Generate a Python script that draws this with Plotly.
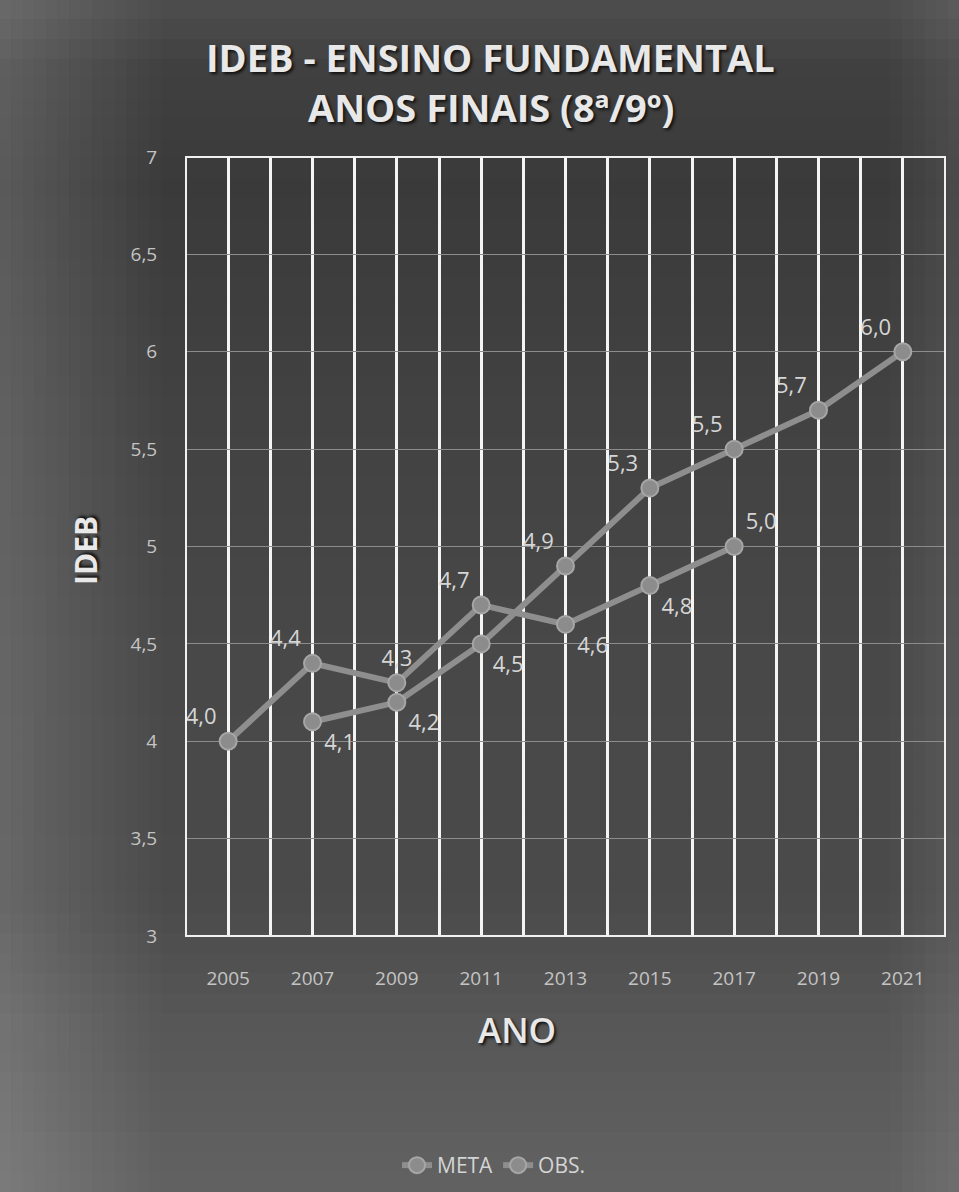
import plotly.graph_objects as go

# Data
anos_obs = [2005, 2007, 2009, 2011, 2013, 2015, 2017]
obs = [4.0, 4.4, 4.3, 4.7, 4.6, 4.8, 5.0]
obs_pos = ["top left", "top left", "top center", "top left",
           "bottom right", "bottom right", "top right"]

anos_meta = [2007, 2009, 2011, 2013, 2015, 2017, 2019, 2021]
meta = [4.1, 4.2, 4.5, 4.9, 5.3, 5.5, 5.7, 6.0]
meta_pos = ["bottom right", "bottom right", "bottom right", "top left",
            "top left", "top left", "top left", "top left"]

x_ticks = [2005, 2007, 2009, 2011, 2013, 2015, 2017, 2019, 2021]
y_ticks = [3, 3.5, 4, 4.5, 5, 5.5, 6, 6.5, 7]
y_tick_text = [str(v).replace(".", ",") for v in y_ticks]

FONT = "Open Sans"
LINE_C = "#8e8e8e"
MARK_C = "#8c8c8c"
MARK_EDGE = "#a6a6a6"
TXT_C = "#d6d6d6"
SHADOW = "2px 2px 3px #111111"


def fmt(v):
    return f"{v:.1f}".replace(".", ",")


def lerp_gray(stops, t):
    for (t0, g0), (t1, g1) in zip(stops, stops[1:]):
        if t0 <= t <= t1:
            g = g0 + (g1 - g0) * (t - t0) / (t1 - t0)
            g = int(round(g))
            return f"rgb({g},{g},{g})"
    g = stops[-1][1]
    return f"rgb({g},{g},{g})"


fig = go.Figure()

for xs, ys, name, pos in [(anos_meta, meta, "META", meta_pos),
                          (anos_obs, obs, "OBS.", obs_pos)]:
    fig.add_trace(go.Scatter(
        x=xs, y=ys, name=name, mode="lines+markers+text",
        line=dict(color=LINE_C, width=6),
        marker=dict(size=17, color=MARK_C,
                    line=dict(color=MARK_EDGE, width=2)),
        text=[fmt(v) for v in ys], textposition=pos,
        textfont=dict(family=FONT, size=22, color=TXT_C),
        cliponaxis=False,
    ))

# Page geometry in pixels and paper-coordinate extents of the margins
W, H = 959, 1192
L, R, T, B = 186, 14, 157, 256
pw, ph = W - L - R, H - T - B
x0p, x1p = -L / pw, 1 + R / pw
y0p, y1p = -B / ph, 1 + T / ph


def px_x(px):
    return (px - L) / pw


def px_y(py):
    return (H - B - py) / ph


shapes = []
# smooth vertical gradient over the whole page
v_stops = [(0.0, 78), (0.06, 64), (0.15, 58), (0.35, 66), (0.55, 72),
           (0.75, 74), (0.85, 86), (0.95, 94), (1.0, 98)]
n = 60
for i in range(n):
    a, b = i / n, (i + 1) / n
    ya = y1p - (y1p - y0p) * a
    yb = y1p - (y1p - y0p) * b
    shapes.append(dict(type="rect", xref="paper", yref="paper",
                       x0=x0p, x1=x1p, y0=yb, y1=ya + 0.001,
                       fillcolor=lerp_gray(v_stops, (a + b) / 2),
                       line_width=0, layer="below"))
# soft lighter edges left and right
m = 14
for i in range(m):
    op = 0.16 * (1 - i / m)
    xa = x0p + (x1p - x0p) * (0.012 * i)
    xb = x0p + (x1p - x0p) * (0.012 * (i + 1))
    shapes.append(dict(type="rect", xref="paper", yref="paper",
                       x0=xa, x1=xb, y0=y0p, y1=y1p, fillcolor="white",
                       opacity=op, line_width=0, layer="below"))
for i in range(6):
    op = 0.08 * (1 - i / 6)
    xb = x1p - (x1p - x0p) * (0.012 * i)
    xa = x1p - (x1p - x0p) * (0.012 * (i + 1))
    shapes.append(dict(type="rect", xref="paper", yref="paper",
                       x0=xa, x1=xb, y0=y0p, y1=y1p, fillcolor="white",
                       opacity=op, line_width=0, layer="below"))
# plot area border
shapes.append(dict(type="rect", xref="paper", yref="paper", x0=0, x1=1,
                   y0=0, y1=1, line=dict(color="#f0f0f0", width=2),
                   layer="above"))

annotations = [
    dict(text="IDEB - ENSINO FUNDAMENTAL", xref="paper", yref="paper",
         x=px_x(490), y=px_y(57), xanchor="center", yanchor="middle",
         showarrow=False,
         font=dict(family=FONT, size=38, color="#e8e8e8", weight="bold",
                   shadow=SHADOW)),
    dict(text="ANOS FINAIS (8ª/9º)", xref="paper", yref="paper",
         x=px_x(491), y=px_y(107), xanchor="center", yanchor="middle",
         showarrow=False,
         font=dict(family=FONT, size=38, color="#e8e8e8", weight="bold",
                   shadow=SHADOW)),
    dict(text="ANO", xref="paper", yref="paper",
         x=px_x(517), y=px_y(1029), xanchor="center", yanchor="middle",
         showarrow=False,
         font=dict(family=FONT, size=35, color="#e8e8e8", weight=600,
                   shadow=SHADOW)),
    dict(text="IDEB", xref="paper", yref="paper", textangle=-90,
         x=px_x(85), y=px_y(551), xanchor="center", yanchor="middle",
         showarrow=False,
         font=dict(family=FONT, size=30, color="#e8e8e8", weight="bold",
                   shadow=SHADOW)),
]

fig.update_layout(
    width=W, height=H,
    margin=dict(l=L, r=R, t=T, b=B, autoexpand=False),
    paper_bgcolor="#555555",
    plot_bgcolor="rgba(0,0,0,0)",
    shapes=shapes,
    annotations=annotations,
    xaxis=dict(
        range=[2004, 2022], tickvals=x_ticks,
        ticktext=[str(v) for v in x_ticks],
        showgrid=True, gridcolor="#f4f4f4", gridwidth=2.5,
        minor=dict(dtick=1, tick0=2004, showgrid=True,
                   gridcolor="#f4f4f4", gridwidth=2.5),
        zeroline=False, showline=False,
        ticks="outside", ticklen=25, tickcolor="rgba(0,0,0,0)",
        tickfont=dict(family=FONT, size=19, color="#c4c4c4"),
    ),
    yaxis=dict(
        range=[3, 7], tickvals=y_ticks, ticktext=y_tick_text,
        showgrid=True, gridcolor="#8c8c8c", gridwidth=1,
        zeroline=False, showline=False,
        ticks="outside", ticklen=24, tickcolor="rgba(0,0,0,0)",
        tickfont=dict(family=FONT, size=19, color="#c4c4c4"),
    ),
    legend=dict(
        orientation="h", x=px_x(494), xanchor="center",
        y=px_y(1145), yanchor="top",
        font=dict(family=FONT, size=21, color="#d4d4d4"),
        bgcolor="rgba(0,0,0,0)",
    ),
    showlegend=True,
)

fig.write_html("out.html")
